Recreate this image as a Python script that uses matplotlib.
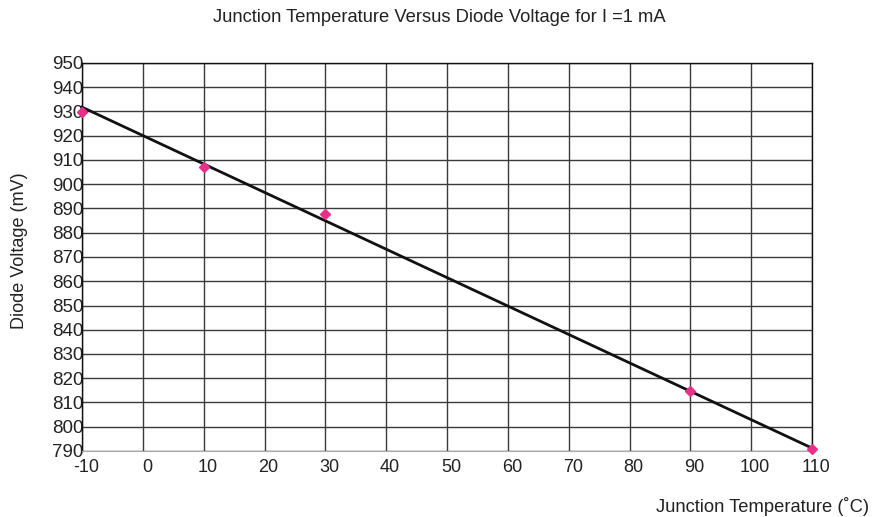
import matplotlib
matplotlib.use("Agg")
import matplotlib.pyplot as plt
import matplotlib.transforms as mtransforms
import numpy as np

plt.rcParams['font.family'] = ['Liberation Sans', 'DejaVu Sans']

temps = [-10, 10, 30, 90, 110]
volts = [929.9, 907.3, 887.6, 814.6, 790.8]
fit_temps = [-10, 110]
fit_volts = [931.8, 791.2]
x_ticks = list(range(-10, 111, 10))
y_ticks = list(range(790, 951, 10))

fig = plt.figure(figsize=(8.83, 5.17), dpi=100)
ax = fig.add_axes([82/883, 1-451/517, 730/883, 388/517])

ax.set_xlim(-10, 110)
ax.set_ylim(790, 950)
ax.set_xticks(x_ticks)
ax.set_yticks(y_ticks)
ax.set_xticklabels([str(t) for t in x_ticks], fontsize=13, color='#222222')
ax.set_yticklabels([str(t) for t in y_ticks], fontsize=13.5, color='#222222')
ax.tick_params(axis='y', length=0, pad=-1)
ax.tick_params(axis='x', length=0, pad=6)
for lbl in ax.get_yticklabels():
    lbl.set_horizontalalignment('right')
shift = mtransforms.ScaledTranslation(4/100, 0, fig.dpi_scale_trans)
for lbl in ax.get_xticklabels():
    lbl.set_transform(lbl.get_transform() + shift)

ax.grid(True, color='#3a3a3a', lw=1.0)
ax.set_axisbelow(True)
for s in ['top', 'left', 'right']:
    ax.spines[s].set_color('#111111')
    ax.spines[s].set_linewidth(1.0)
ax.spines['bottom'].set_color('#aaaaaa')

ax.plot(fit_temps, fit_volts, color='#111111', lw=2, zorder=3, clip_on=False)
ax.plot(temps, volts, linestyle='none', marker='D', markersize=5.5,
        color='#e8308a', markeredgecolor='#e8308a', zorder=4, clip_on=False)

fig.text(439/883, 1-18/517, 'Junction Temperature Versus Diode Voltage for I =1 mA',
         ha='center', va='center', fontsize=13.2, color='#222222')
fig.text(763/883, 1-506/517, 'Junction Temperature (˚C)', ha='center', va='center',
         fontsize=13.2, color='#222222')
fig.text(20/883, 1-251/517, 'Diode Voltage (mV)', ha='center', va='center',
         rotation=90, fontsize=13, color='#222222')

fig.savefig('out.png', dpi=100)
